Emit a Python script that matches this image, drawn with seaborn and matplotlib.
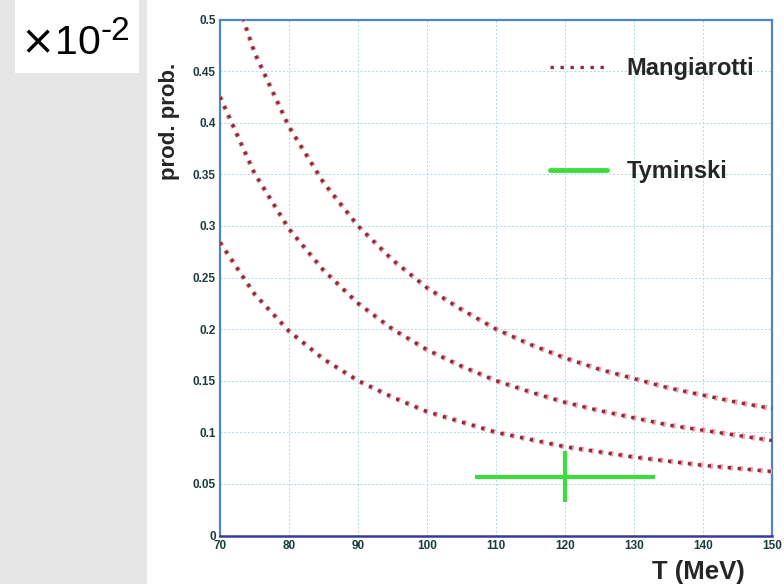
import numpy as np
import pandas as pd
import matplotlib
matplotlib.use('Agg')
import matplotlib.pyplot as plt
from matplotlib.lines import Line2D
from matplotlib.patches import Rectangle
import seaborn as sns

# values
temps = [70, 75, 80, 85, 90, 95, 100, 105, 110, 115, 120, 125, 130, 135, 140, 145, 150]
mangiarotti_hi = [0.567, 0.468, 0.396, 0.342, 0.300, 0.267, 0.240, 0.219, 0.200,
                  0.185, 0.172, 0.161, 0.152, 0.143, 0.136, 0.129, 0.123]
mangiarotti_mid = [0.425, 0.351, 0.297, 0.257, 0.225, 0.200, 0.180, 0.164, 0.150,
                   0.139, 0.129, 0.121, 0.114, 0.107, 0.102, 0.097, 0.092]
mangiarotti_lo = [0.284, 0.234, 0.198, 0.171, 0.150, 0.134, 0.120, 0.110, 0.100,
                  0.093, 0.086, 0.081, 0.076, 0.072, 0.068, 0.065, 0.062]
tyminski_T = 120
tyminski_val = 0.057
tyminski_Terr = 13
tyminski_err = 0.0245

xticks = [70, 80, 90, 100, 110, 120, 130, 140, 150]
yticks = [0, 0.05, 0.1, 0.15, 0.2, 0.25, 0.3, 0.35, 0.4, 0.45, 0.5]
ytick_labels = ['0', '0.05', '0.1', '0.15', '0.2', '0.25', '0.3', '0.35', '0.4', '0.45', '0.5']

sns.set_style('white')
plt.rcParams['font.family'] = ['Liberation Sans', 'DejaVu Sans']

df = pd.DataFrame({'T': temps, 'hi': mangiarotti_hi, 'mid': mangiarotti_mid, 'lo': mangiarotti_lo})

fig = plt.figure(figsize=(7.84, 5.84), dpi=100)
fig.patch.set_facecolor('white')
# grey band on the left and the white box with the exponent
fig.patches.append(Rectangle((0, 0), 147 / 784, 1, transform=fig.transFigure,
                             facecolor='#e6e6e6', edgecolor='none', zorder=0))
fig.patches.append(Rectangle((15 / 784, 1 - 73 / 584), 124 / 784, 73 / 584,
                             transform=fig.transFigure, facecolor='white',
                             edgecolor='none', zorder=1))
fig.text(20 / 784, 1 - 54 / 584, r'$\times$10', fontsize=29.5, color='black',
         va='baseline', ha='left')
fig.text(101 / 784, 1 - 40 / 584, '-2', fontsize=24, color='black',
         va='baseline', ha='left')

ax = fig.add_axes([220 / 784, 48.5 / 584, 552 / 784, 516 / 584])

curve_color = '#8a2c3e'
for col in ['hi', 'mid', 'lo']:
    sns.lineplot(data=df, x='T', y=col, ax=ax, color='#f2a2aa', lw=3.8,
                 linestyle=(0, (0.7, 1.2)), zorder=3)
    sns.lineplot(data=df, x='T', y=col, ax=ax, color=curve_color, lw=2.4,
                 linestyle=(0, (1, 2)), zorder=4)

ax.errorbar(tyminski_T, tyminski_val, xerr=tyminski_Terr, yerr=tyminski_err,
            fmt='none', ecolor='#3ddc3d', elinewidth=3, capsize=0, zorder=5)

ax.set_xlim(70, 150)
ax.set_ylim(0, 0.5)
ax.set_xticks(xticks)
ax.set_yticks(yticks)
ax.set_yticklabels(ytick_labels)
ax.set_xticks(np.arange(70, 151, 2.5), minor=True)
ax.set_yticks(np.arange(0, 0.501, 0.0125), minor=True)
ax.tick_params(axis='both', which='major', direction='in', length=6, width=0.6,
               colors='#9fd4dc', labelcolor='#1e3c3c', labelsize=8.5, pad=3)
ax.tick_params(axis='both', which='minor', direction='in', length=3, width=0.6,
               colors='#9fd4dc')
for lab in ax.get_xticklabels() + ax.get_yticklabels():
    lab.set_fontweight('bold')

ax.grid(True, which='major', color='#a8dce4', lw=0.7, linestyle=(0, (2, 2)))
ax.set_axisbelow(True)
for side in ['top', 'right', 'left']:
    ax.spines[side].set_color('#4f86c6')
    ax.spines[side].set_linewidth(1.6)
ax.spines['bottom'].set_color('#3a3a96')
ax.spines['bottom'].set_linewidth(1.8)

ax.set_xlabel('')
ax.set_ylabel('')
fig.text(170 / 784, 1 - 121 / 584, 'prod. prob.', rotation=90, fontsize=16,
         fontweight='bold', ha='center', va='center')
fig.text(698 / 784, 1 - 572 / 584, 'T (MeV)', fontsize=18.5, fontweight='bold',
         ha='center', va='center')

handles = [Line2D([], [], color=curve_color, lw=2.4, linestyle=(0, (1, 2))),
           Line2D([], [], color='#3ddc3d', lw=3.5)]
ax.legend(handles, ['Mangiarotti', 'Tyminski'], loc='upper left',
          bbox_to_anchor=(550 / 784, 1 - 57 / 584), bbox_transform=fig.transFigure,
          frameon=False, prop={'weight': 'bold', 'size': 17},
          handlelength=2.4, handletextpad=0.85, labelspacing=3.4,
          borderpad=0, borderaxespad=0)

fig.savefig('out.png', dpi=100)
